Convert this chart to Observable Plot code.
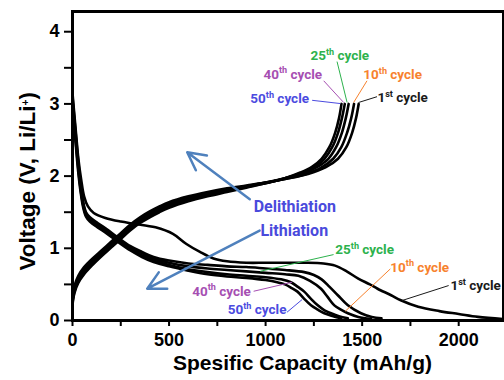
<!DOCTYPE html>
<html><head><meta charset="utf-8">
<script src="https://cdn.jsdelivr.net/npm/d3@7"></script>
<script src="https://cdn.jsdelivr.net/npm/@observablehq/plot@0.6"></script>
<style>
html,body{margin:0;padding:0;background:#fff;}
#chart{width:504px;height:380px;overflow:hidden;}
</style></head><body><div id="chart"></div>
<script>
// ---- tick values & labels ----
const xTicks = [0,250,500,750,1000,1250,1500,1750,2000];
const xTickLabels = ["0","","500","","1000","","1500","","2000"];
const yTicks = [0,0.5,1,1.5,2,2.5,3,3.5,4];
const yTickLabels = ["0","","1","","2","","3","","4"];

// ---- delithiation (charge) curves: [capacity mAh/g, voltage V] ----
const charge1st = [[0,0.35],[10,0.48],[30,0.62],[60,0.74],[100,0.85],[150,0.97],[200,1.09],[250,1.21],[300,1.33],[350,1.43],[400,1.51],[450,1.58],[500,1.64],[600,1.72],[700,1.78],[800,1.83],[900,1.87],[1000,1.91],[1100,1.96],[1220,2.03],[1310,2.12],[1375,2.24],[1418,2.4],[1448,2.6],[1468,2.8],[1482,3.0]];
const charge10th = [[0,0.3],[10,0.44],[30,0.58],[60,0.7],[100,0.82],[150,0.95],[200,1.07],[250,1.19],[300,1.31],[350,1.41],[400,1.49],[450,1.56],[500,1.62],[600,1.7],[700,1.76],[800,1.81],[900,1.86],[1000,1.91],[1100,1.96],[1210,2.03],[1290,2.12],[1350,2.24],[1392,2.4],[1422,2.6],[1443,2.8],[1458,3.0]];
const charge25th = [[0,0.28],[10,0.42],[30,0.56],[60,0.68],[100,0.8],[150,0.93],[200,1.05],[250,1.17],[300,1.29],[350,1.39],[400,1.47],[450,1.54],[500,1.6],[600,1.69],[700,1.75],[800,1.81],[900,1.86],[1000,1.91],[1100,1.97],[1200,2.04],[1270,2.13],[1325,2.24],[1365,2.4],[1395,2.6],[1415,2.8],[1430,3.0]];
const charge40th = [[0,0.25],[10,0.4],[30,0.54],[60,0.66],[100,0.78],[150,0.91],[200,1.03],[250,1.15],[300,1.27],[350,1.37],[400,1.45],[450,1.52],[500,1.58],[600,1.67],[700,1.74],[800,1.8],[900,1.85],[1000,1.9],[1100,1.97],[1190,2.05],[1255,2.13],[1305,2.24],[1345,2.4],[1375,2.6],[1395,2.8],[1410,3.0]];
const charge50th = [[0,0.22],[10,0.38],[30,0.52],[60,0.64],[100,0.76],[150,0.89],[200,1.01],[250,1.13],[300,1.25],[350,1.35],[400,1.43],[450,1.5],[500,1.56],[600,1.65],[700,1.72],[800,1.78],[900,1.84],[1000,1.9],[1100,1.97],[1180,2.05],[1240,2.13],[1290,2.24],[1330,2.4],[1360,2.6],[1380,2.8],[1393,3.0]];

// ---- lithiation (discharge) curves ----
const discharge1st = [[0,3.15],[8,2.9],[18,2.6],[30,2.25],[45,1.95],[60,1.72],[80,1.58],[110,1.49],[170,1.42],[250,1.37],[320,1.34],[430,1.29],[520,1.2],[590,1.06],[660,0.95],[730,0.86],[800,0.82],[900,0.8],[1000,0.8],[1100,0.8],[1200,0.8],[1300,0.79],[1360,0.76],[1420,0.68],[1480,0.58],[1540,0.5],[1580,0.44],[1650,0.35],[1700,0.28],[1790,0.19],[1900,0.13],[2000,0.09],[2100,0.05],[2230,0.02]];
const discharge10th = [[0,3.05],[8,2.8],[18,2.5],[30,2.15],[42,1.85],[55,1.62],[70,1.48],[90,1.41],[130,1.33],[180,1.24],[230,1.14],[300,1.01],[360,0.93],[420,0.86],[500,0.8],[600,0.75],[700,0.72],[800,0.7],[900,0.68],[1000,0.66],[1100,0.64],[1170,0.62],[1230,0.55],[1287,0.44],[1320,0.33],[1356,0.21],[1390,0.15],[1426,0.1],[1480,0.05],[1546,0.02]];
const discharge25th = [[0,3.1],[8,2.85],[18,2.55],[30,2.2],[42,1.9],[55,1.65],[70,1.5],[90,1.43],[130,1.35],[180,1.26],[230,1.16],[300,1.03],[360,0.95],[420,0.88],[500,0.83],[600,0.79],[700,0.77],[800,0.75],[900,0.74],[1000,0.72],[1100,0.7],[1200,0.67],[1250,0.63],[1290,0.57],[1330,0.47],[1374,0.35],[1426,0.21],[1494,0.1],[1550,0.05],[1600,0.03]];
const discharge40th = [[0,3.0],[8,2.75],[18,2.45],[30,2.1],[42,1.82],[55,1.6],[70,1.46],[90,1.39],[130,1.31],[180,1.22],[230,1.12],[300,0.99],[360,0.9],[420,0.83],[500,0.77],[600,0.71],[700,0.67],[800,0.64],[900,0.62],[1000,0.6],[1080,0.57],[1131,0.53],[1165,0.47],[1200,0.4],[1235,0.3],[1270,0.21],[1305,0.14],[1339,0.1],[1380,0.06],[1426,0.03]];
const discharge50th = [[0,2.95],[8,2.7],[18,2.4],[30,2.05],[42,1.78],[55,1.57],[70,1.44],[90,1.37],[130,1.29],[180,1.2],[230,1.1],[300,0.97],[360,0.88],[420,0.81],[500,0.75],[600,0.69],[700,0.64],[800,0.61],[900,0.59],[1000,0.56],[1060,0.53],[1100,0.5],[1135,0.45],[1165,0.4],[1200,0.3],[1235,0.21],[1270,0.15],[1304,0.1],[1350,0.06],[1391,0.03]];

// ---- cycle label colours ----
const cycleNames = ["1st","10th","25th","40th","50th"];
const cycleColors = ["#1a1a1a","#f7822e","#2db24d","#a64fb2","#4b4bdf"];

// ---- annotation placement (data coordinates) ----
const cycleLabels = [
  {cyc:"25th", x:1232, y:3.665, x1:1370, y1:3.586, x2:1422, y2:3.02},
  {cyc:"40th", x:989,  y:3.41,  x1:1301, y1:3.32,  x2:1404, y2:3.02},
  {cyc:"10th", x:1506, y:3.40,  x1:1525, y1:3.32,  x2:1456, y2:3.02},
  {cyc:"50th", x:921,  y:3.07,  x1:1241, y1:3.05,  x2:1387, y2:3.005},
  {cyc:"1st",  x:1579, y:3.085, x1:1577, y1:3.10,  x2:1482, y2:3.02},
  {cyc:"25th", x:1361, y:0.982, x1:1352, y1:0.913, x2:973,  y2:0.682},
  {cyc:"10th", x:1646, y:0.737, x1:1646, y1:0.715, x2:1413, y2:0.129},
  {cyc:"1st",  x:1957, y:0.484, x1:1948, y1:0.484, x2:1707, y2:0.277},
  {cyc:"40th", x:620,  y:0.405, x1:938,  y1:0.405, x2:1137, y2:0.53},
  {cyc:"50th", x:804,  y:0.148, x1:1111, y1:0.115, x2:1189, y2:0.29}
];
const processLabels = [
  {t:"Delithiation", x:938, y:1.567},
  {t:"Lithiation",   x:973, y:1.245}
];
const processArrows = [
  {x1:918, y1:1.68, x2:594, y2:2.33},
  {x1:969, y1:1.245, x2:387, y2:0.44}
];

// ---- build tables ----
const series = [
  ["c1",charge1st],["c10",charge10th],["c25",charge25th],["c40",charge40th],["c50",charge50th],
  ["d1",discharge1st],["d10",discharge10th],["d25",discharge25th],["d40",discharge40th],["d50",discharge50th]
];
const rows = series.flatMap(([id, pts]) => pts.map(([x, v]) => ({id, x, v})));
const colorOf = c => cycleColors[cycleNames.indexOf(c)];
const labelRows = cycleLabels.map(d => ({...d, text: d.cyc + " cycle", color: colorOf(d.cyc)}));

const plot = Plot.plot({
  width: 504, height: 380,
  marginLeft: 72, marginRight: 1, marginTop: 11, marginBottom: 60,
  x: {domain: [0, 2232], label: null},
  y: {domain: [0, 4.28], label: null},
  color: {type: "identity"},
  style: "font-family:'Liberation Sans',Arial,sans-serif;font-weight:bold;color:black;background:white;overflow:visible;",
  marks: [
    Plot.line(rows, {x: "x", y: "v", z: "id", stroke: "black", strokeWidth: 2.6, curve: "catmull-rom", clip: true}),
    Plot.link(labelRows, {x1: "x1", y1: "y1", x2: "x2", y2: "y2", stroke: "color", strokeWidth: 1}),
    Plot.text(labelRows, {x: "x", y: "y", text: "text", fill: "color", textAnchor: "start", fontSize: 13.5, fontFamily: "Roboto", fontWeight: "bold"}),
    Plot.arrow(processArrows, {x1: "x1", y1: "y1", x2: "x2", y2: "y2", stroke: "#4f81bd", strokeWidth: 2.5, headLength: 12, headAngle: 55}),
    Plot.text(processLabels, {x: "x", y: "y", text: "t", fill: "#4a4adc", textAnchor: "start", fontSize: 16, fontFamily: "Roboto", fontWeight: "bold"}),
    Plot.axisX(xTicks, {tickSize: 6, tickPadding: 7, strokeWidth: 2, fontSize: 18, tickFormat: d => xTickLabels[xTicks.indexOf(d)], label: null}),
    Plot.axisY(yTicks, {tickSize: 8, tickPadding: 5, strokeWidth: 2, fontSize: 18, tickFormat: d => yTickLabels[yTicks.indexOf(d)], label: null}),
    Plot.text(["Spesific Capacity (mAh/g)"], {frameAnchor: "bottom", dx: 14.5, dy: 49, fontSize: 21, fill: "black"}),
    Plot.text(["Voltage (V, Li/Li+)"], {frameAnchor: "left", rotate: -90, textAnchor: "start", dx: -45, dy: 104.5, fontSize: 22.5, fill: "black"}),
    Plot.frame({stroke: "black", strokeWidth: 3})
  ]
});

// superscripts
d3.select(plot).selectAll("text").each(function() {
  const el = this;
  if (el.childElementCount) return;
  const s = el.textContent;
  const fs = parseFloat(getComputedStyle(el).fontSize) || 14;
  let parts = null, ratio = 0.65;
  let m = s.match(/^(\d+)(st|th)( cycle)$/);
  if (m) parts = [m[1], m[2], m[3]];
  else if (s === "Voltage (V, Li/Li+)") { parts = ["Voltage (V, Li/Li", "+", ")"]; ratio = 0.72; }
  if (!parts) return;
  el.textContent = "";
  const sel = d3.select(el);
  sel.append("tspan").text(parts[0]);
  const shift = fs * 0.38;
  sel.append("tspan").attr("dy", -shift).attr("font-size", fs * ratio).text(parts[1]);
  sel.append("tspan").attr("dy", shift).text(parts[2]);
});

document.getElementById("chart").appendChild(plot);
</script>
</body></html>
